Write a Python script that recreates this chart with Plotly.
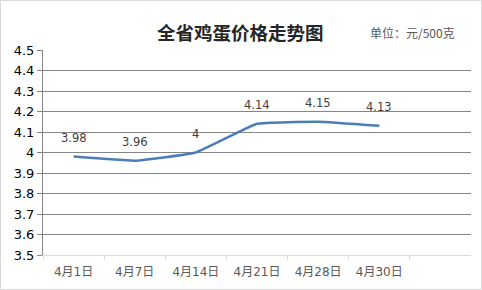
import plotly.graph_objects as go

categories = ["4月1日", "4月7日", "4月14日", "4月21日", "4月28日", "4月30日"]
prices = [3.98, 3.96, 4.00, 4.14, 4.15, 4.13]
price_labels = ["3.98", "3.96", "4", "4.14", "4.15", "4.13"]
y_ticks = [3.5, 3.6, 3.7, 3.8, 3.9, 4.0, 4.1, 4.2, 4.3, 4.4, 4.5]
y_ticktext = ["3.5", "3.6", "3.7", "3.8", "3.9", "4", "4.1", "4.2", "4.3", "4.4", "4.5"]

W, H = 482, 290
L, R, T, B = 43, 11, 50, 35
pw, ph = W - L - R, H - T - B

FONT = "DejaVu Sans, Noto Sans CJK SC, sans-serif"

fig = go.Figure()
fig.add_trace(go.Scatter(
    x=categories, y=prices, mode="lines",
    line=dict(color="#4a7ebb", width=2.5, shape="spline", smoothing=0.3),
    cliponaxis=False, hoverinfo="skip",
))

annotations = [
    dict(x=c, y=v, text=t, xref="x", yref="y", showarrow=False,
         yshift=19, xanchor="center", yanchor="middle",
         font=dict(family=FONT, size=11.5, color="#404040"))
    for c, v, t in zip(categories, prices, price_labels)
]
annotations += [
    dict(text="<b>全省鸡蛋价格走势图</b>", xref="paper", yref="paper",
         x=(240 - L) / pw, y=1 + (T - 32) / ph, xanchor="center", yanchor="middle",
         showarrow=False, font=dict(family="Noto Sans CJK SC", size=18.5, color="#262626")),
    dict(text="单位：元/500克", xref="paper", yref="paper",
         x=(412 - L) / pw, y=1 + (T - 33) / ph, xanchor="center", yanchor="middle",
         showarrow=False, font=dict(family="Noto Sans CJK SC, DejaVu Sans", size=12, color="#595959")),
]

fig.update_layout(
    width=W, height=H,
    margin=dict(l=L, r=R, t=T, b=B),
    paper_bgcolor="white", plot_bgcolor="white",
    showlegend=False,
    font=dict(family=FONT),
    xaxis=dict(
        type="category", categoryorder="array", categoryarray=categories,
        range=[-0.5, 6.5], tickson="boundaries",
        ticks="outside", ticklen=4, tickcolor="#d9d9d9",
        ticklabelstandoff=6,
        showline=True, linecolor="#d9d9d9", linewidth=1,
        showgrid=False, zeroline=False,
        tickfont=dict(family=FONT, size=12, color="#595959"),
    ),
    yaxis=dict(
        range=[3.5, 4.5], tickvals=y_ticks, ticktext=y_ticktext,
        ticks="outside", ticklen=5, tickcolor="#868686",
        showline=True, linecolor="#868686", linewidth=1,
        showgrid=True, gridcolor="#868686", gridwidth=1,
        zeroline=False,
        tickfont=dict(family=FONT, size=13, color="black"),
    ),
    annotations=annotations,
    shapes=[
        dict(type="rect", xref="paper", yref="paper",
             x0=(-L + 0.5) / pw, x1=1 + (R - 0.5) / pw,
             y0=-(B - 0.5) / ph, y1=1 + (T - 0.5) / ph,
             line=dict(color="#d9d9d9", width=1), layer="below"),
    ],
)

fig.write_html("out.html")
